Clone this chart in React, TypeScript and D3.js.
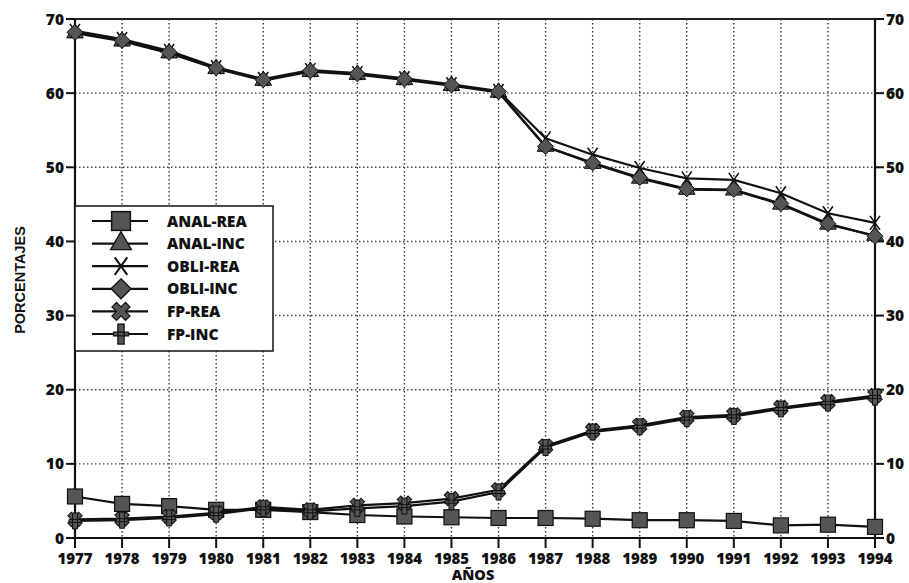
import React from 'react';
import * as d3 from 'd3';

const years = [1977, 1978, 1979, 1980, 1981, 1982, 1983, 1984, 1985, 1986, 1987, 1988, 1989, 1990, 1991, 1992, 1993, 1994];

const analRea = [5.6, 4.6, 4.3, 3.8, 3.8, 3.5, 3.1, 2.9, 2.8, 2.7, 2.7, 2.6, 2.4, 2.4, 2.3, 1.7, 1.8, 1.5];
const analInc = [68.1, 67.0, 65.4, 63.3, 61.7, 62.9, 62.5, 61.8, 61.0, 60.1, 52.8, 50.5, 48.5, 47.0, 46.9, 45.0, 42.3, 40.8];
const obliRea = [68.4, 67.3, 65.7, 63.5, 61.9, 63.1, 62.7, 62.0, 61.2, 60.3, 53.9, 51.7, 49.9, 48.5, 48.3, 46.5, 43.8, 42.5];
const obliInc = [68.2, 67.1, 65.5, 63.4, 61.8, 63.0, 62.6, 61.9, 61.1, 60.2, 52.8, 50.6, 48.6, 47.1, 47.0, 45.1, 42.4, 40.7];
const fpRea = [2.5, 2.6, 2.9, 3.4, 4.2, 3.8, 4.4, 4.7, 5.3, 6.5, 12.4, 14.5, 15.2, 16.3, 16.6, 17.6, 18.4, 19.2];
const fpInc = [2.3, 2.4, 2.7, 3.2, 4.0, 3.6, 4.0, 4.3, 4.9, 6.2, 12.2, 14.3, 15.0, 16.1, 16.4, 17.4, 18.2, 19.0];

const yTicks = [0, 10, 20, 30, 40, 50, 60, 70];

type Series = { name: string; values: number[]; marker: string };

const series: Series[] = [
  { name: 'ANAL-REA', values: analRea, marker: 'square' },
  { name: 'ANAL-INC', values: analInc, marker: 'triangle' },
  { name: 'OBLI-REA', values: obliRea, marker: 'xthin' },
  { name: 'OBLI-INC', values: obliInc, marker: 'diamond' },
  { name: 'FP-REA', values: fpRea, marker: 'xthick' },
  { name: 'FP-INC', values: fpInc, marker: 'plus' },
];

const W = 909;
const H = 583;
const left = 75;
const right = 875;
const top = 19;
const bottom = 538;

const fill = '#555';
const font = '"Open Sans", "DejaVu Sans", sans-serif';
const arial = '"Liberation Sans", Arial, sans-serif';

function Marker({ kind, x, y, s = 1 }: { kind: string; x: number; y: number; s?: number }) {
  const t = `translate(${x},${y}) scale(${s})`;
  if (kind === 'square') {
    return <rect transform={t} x={-7.5} y={-7.5} width={15} height={15} fill={fill} stroke="#111" strokeWidth={1.2} />;
  }
  if (kind === 'triangle') {
    return <path transform={t} d={d3.symbol(d3.symbolTriangle, 120)() || ''} fill={fill} stroke="#111" strokeWidth={1} />;
  }
  if (kind === 'diamond') {
    return <path transform={t} d="M0,-8L8,0L0,8L-8,0Z" fill={fill} stroke="#111" strokeWidth={1} />;
  }
  if (kind === 'xthin') {
    return <path transform={t} d="M-5,-7L5,7M-5,7L5,-7" fill="none" stroke="#111" strokeWidth={1.6} />;
  }
  if (kind === 'xthick') {
    return (
      <path transform={`${t} rotate(45)`} d={d3.symbol(d3.symbolCross, 130)() || ''} fill={fill} stroke="#111" strokeWidth={1} />
    );
  }
  return <path transform={t} d="M-2.5,-8L2.5,-8L2.5,8L-2.5,8Z M-6,-1.5L6,-1.5L6,1.5L-6,1.5Z" fill={fill} stroke="#111" strokeWidth={1} />;
}

export default function App() {
  const x = d3.scaleLinear().domain([1977, 1994]).range([left, right]);
  const y = d3.scaleLinear().domain([0, 70]).range([bottom, top]);

  const line = d3
    .line<number>()
    .x((_, i) => x(years[i]))
    .y((d) => y(d));

  const legendX = 75;
  const legendY = 206;
  const rowY = (i: number) => legendY + 15 + i * 22.6;

  return (
    <svg width={W} height={H} style={{ position: 'absolute', left: 0, top: 0, background: '#fff' }} fontFamily={font}>
      <rect width={W} height={H} fill="#fff" />
      {/* grid */}
      {years.slice(1).map((yr) => (
        <line key={'gv' + yr} x1={x(yr)} x2={x(yr)} y1={top} y2={bottom} stroke="#333" strokeWidth={1.4} strokeDasharray="1.5,2.5" />
      ))}
      {yTicks.slice(1, -1).map((v) => (
        <line key={'gh' + v} x1={left} x2={right} y1={y(v)} y2={y(v)} stroke="#444" strokeWidth={1.4} strokeDasharray="1.5,2.5" />
      ))}

      {/* frame */}
      <line x1={left} x2={right} y1={top} y2={top} stroke="#222" strokeWidth={2.2} />
      <line x1={left} x2={left} y1={top} y2={bottom} stroke="#111" strokeWidth={2.2} />
      <line x1={right} x2={right} y1={top} y2={bottom} stroke="#111" strokeWidth={2.2} />
      <line x1={left} x2={right} y1={bottom} y2={bottom} stroke="#111" strokeWidth={2.2} />

      {/* y ticks */}
      {yTicks.map((v) => (
        <g key={'yt' + v}>
          <line x1={left - 9} x2={left} y1={y(v)} y2={y(v)} stroke="#111" strokeWidth={2} />
          <line x1={right} x2={right + 9} y1={y(v)} y2={y(v)} stroke="#111" strokeWidth={2} />
          <text x={left - 11} y={y(v) + 5.5} textAnchor="end" fontSize={15.5} fontWeight={800} fill="#111">
            {v}
          </text>
          <text x={right + 11} y={y(v) + 5.5} textAnchor="start" fontSize={15.5} fontWeight={800} fill="#111">
            {v}
          </text>
        </g>
      ))}

      {/* x ticks */}
      {years.map((yr) => (
        <g key={'xt' + yr}>
          <line x1={x(yr)} x2={x(yr)} y1={bottom} y2={bottom + 10} stroke="#111" strokeWidth={2} />
          <text x={x(yr)} y={bottom + 26} textAnchor="middle" fontSize={15} fontWeight={800} fill="#111">
            {yr}
          </text>
        </g>
      ))}

      <text x={473} y={580} textAnchor="middle" fontSize={14.5} fontWeight={800} fill="#111">
        AÑOS
      </text>
      <text transform={`translate(25,280) rotate(-90)`} textAnchor="middle" fontSize={14.5} fontWeight={700} fill="#111" fontFamily={arial}>
        PORCENTAJES
      </text>

      {/* series */}
      {series.map((s) => (
        <g key={s.name}>
          <path d={line(s.values) || ''} fill="none" stroke="#111" strokeWidth={2.2} />
          {s.values.map((v, i) => (
            <Marker key={i} kind={s.marker} x={x(years[i])} y={y(v)} />
          ))}
        </g>
      ))}

      {/* legend */}
      <rect x={legendX} y={legendY} width={198} height={145} fill="#fff" stroke="#111" strokeWidth={1.5} />
      {series.map((s, i) => (
        <g key={'lg' + s.name}>
          <line x1={92} x2={148} y1={rowY(i)} y2={rowY(i)} stroke="#111" strokeWidth={2.2} />
          <Marker kind={s.marker} x={121} y={rowY(i)} s={1.25} />
          <text x={167} y={rowY(i) + 5.5} fontSize={15.5} fontWeight={800} fill="#111">
            {s.name}
          </text>
        </g>
      ))}
    </svg>
  );
}
